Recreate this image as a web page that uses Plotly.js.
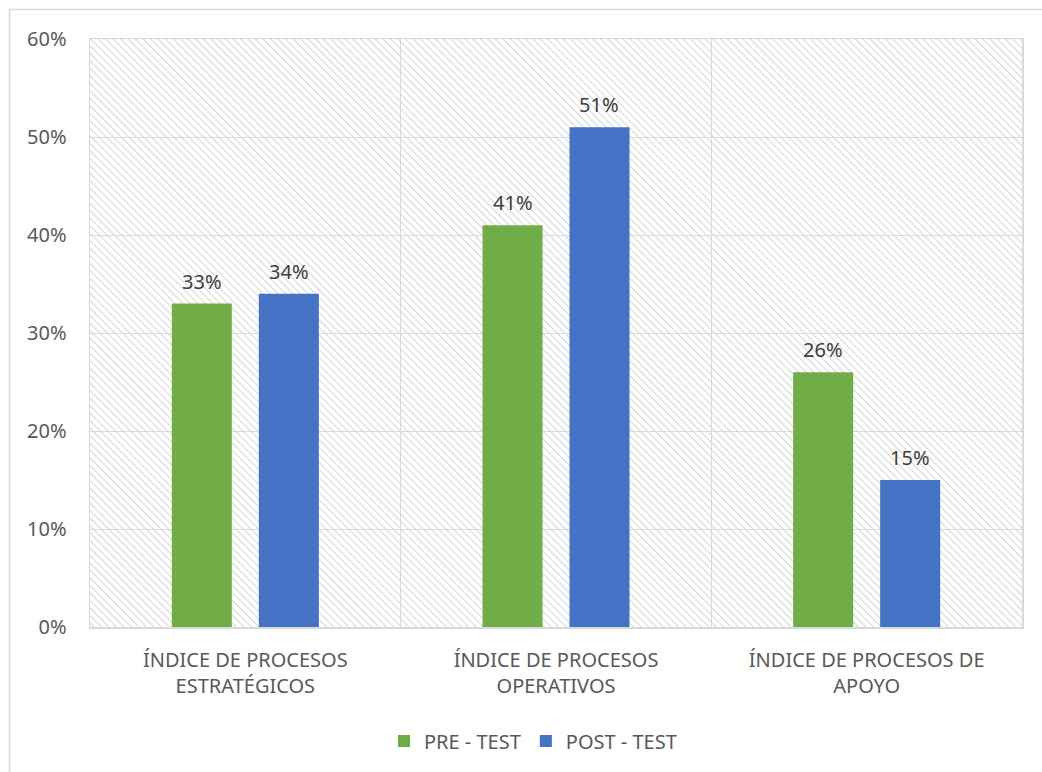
<!DOCTYPE html>
<html>
<head>
<meta charset="utf-8">
<script src="https://cdn.plot.ly/plotly-3.0.1.min.js"></script>
<style>
  html, body { margin: 0; padding: 0; background: #ffffff; overflow: hidden; }
  #chart { width: 1042px; height: 772px; }
</style>
</head>
<body>
<div id="chart"></div>
<script>
// Process indices, before and after the intervention
const categories = [
  'ÍNDICE DE PROCESOS<br>ESTRATÉGICOS',
  'ÍNDICE DE PROCESOS<br>OPERATIVOS',
  'ÍNDICE DE PROCESOS DE<br>APOYO'
];
const preTest = [0.33, 0.41, 0.26];
const postTest = [0.34, 0.51, 0.15];
const seriesNames = ['PRE - TEST', 'POST - TEST'];
const seriesColors = ['#70AD47', '#4472C4'];
const yTicks = [0, 0.1, 0.2, 0.3, 0.4, 0.5, 0.6];

const W = 1042, H = 772;
const M = { l: 90, r: 20, t: 39, b: 145 };
const plotW = W - M.l - M.r, plotH = H - M.t - M.b;
const BARGAP = 0.44;
const FAMILY = 'Noto Sans, Open Sans, sans-serif';
const FS = 20;

// Diagonal hatch fill for the plot area
function hatchSvg(w, h) {
  const svg =
    '<svg xmlns="http://www.w3.org/2000/svg" width="' + w + '" height="' + h + '">' +
    '<defs><pattern id="p" width="5.3" height="5.3" patternUnits="userSpaceOnUse" patternTransform="rotate(-45)">' +
    '<line x1="0" y1="0" x2="0" y2="5.3" stroke="#d2d2d2" stroke-width="1.9"/></pattern></defs>' +
    '<rect width="' + w + '" height="' + h + '" fill="#ffffff"/>' +
    '<rect width="' + w + '" height="' + h + '" fill="url(#p)"/></svg>';
  return 'data:image/svg+xml;base64,' + btoa(svg);
}

const series = [preTest, postTest];
const traces = series.map((vals, i) => ({
  type: 'bar', name: seriesNames[i], x: categories, y: vals,
  marker: { color: seriesColors[i] }
}));

// Value labels above each bar; the horizontal offset is half a group slot
const slotPx = (plotW / categories.length) * (1 - BARGAP) / series.length;
const annotations = [];
series.forEach((vals, i) => {
  vals.forEach((v, j) => {
    annotations.push({
      x: categories[j], y: v, xref: 'x', yref: 'y',
      text: Math.round(v * 100) + '%',
      showarrow: false, yanchor: 'bottom',
      xshift: (i - (series.length - 1) / 2) * slotPx, yshift: 7,
      font: { family: FAMILY, color: '#404040', size: FS }
    });
  });
});

const layout = {
  width: W, height: H,
  margin: M,
  paper_bgcolor: '#ffffff',
  plot_bgcolor: 'rgba(0,0,0,0)',
  font: { family: FAMILY, color: '#595959', size: FS },
  barmode: 'group',
  bargap: BARGAP,
  bargroupgap: 0.31,
  showlegend: true,
  legend: {
    orientation: 'h', x: (533 - M.l) / plotW, xanchor: 'center',
    y: (M.t + plotH - 741) / plotH, yanchor: 'middle',
    font: { family: FAMILY, color: '#595959', size: FS },
    traceorder: 'normal'
  },
  xaxis: {
    type: 'category', tickson: 'boundaries',
    showgrid: true, gridcolor: '#d9d9d9', gridwidth: 1,
    showline: true, mirror: true, linecolor: '#d9d9d9', linewidth: 1.5,
    ticks: '', ticklabelstandoff: 14,
    tickfont: { family: FAMILY, color: '#595959', size: FS }
  },
  yaxis: {
    range: [0, 0.6], tickvals: yTicks, tickformat: '.0%',
    showgrid: true, gridcolor: '#d9d9d9', gridwidth: 1,
    showline: true, mirror: true, linecolor: '#d9d9d9', linewidth: 1.5,
    zeroline: false, ticks: '', ticklabelstandoff: 18,
    tickfont: { family: FAMILY, color: '#595959', size: FS }
  },
  annotations: annotations,
  images: [{
    source: hatchSvg(plotW, plotH),
    xref: 'paper', yref: 'paper', x: 0, y: 1, sizex: 1, sizey: 1,
    xanchor: 'left', yanchor: 'top', sizing: 'stretch', layer: 'below'
  }],
  shapes: [{
    type: 'rect', xref: 'paper', yref: 'paper', layer: 'below',
    x0: (9.5 - M.l) / plotW, x1: (W + 20 - M.l) / plotW,
    y0: -(H + 20 - M.t - plotH) / plotH, y1: (M.t + plotH - 9.5) / plotH,
    line: { color: '#d9d9d9', width: 1.5 }, fillcolor: 'rgba(0,0,0,0)'
  }]
};

Plotly.newPlot('chart', traces, layout, { displayModeBar: false, staticPlot: true });
</script>
</body>
</html>
